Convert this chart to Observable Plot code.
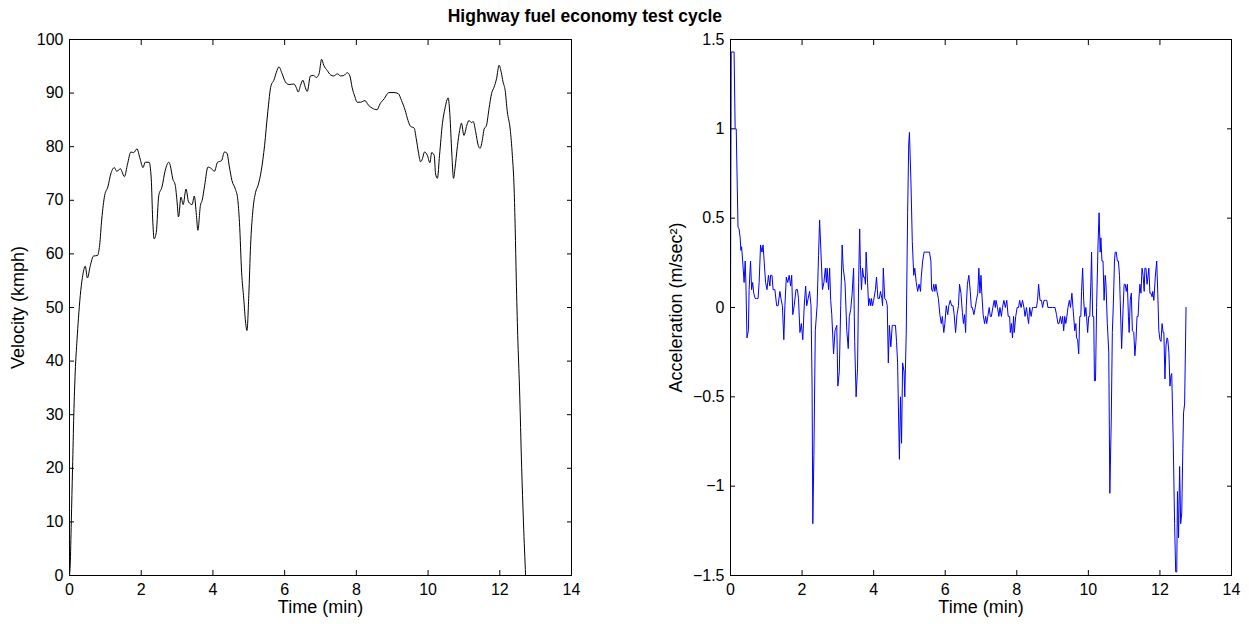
<!DOCTYPE html>
<html><head><meta charset="utf-8">
<script src="https://cdn.jsdelivr.net/npm/d3@7"></script>
<script src="https://cdn.jsdelivr.net/npm/@observablehq/plot@0.6"></script>
<style>
html,body{margin:0;padding:0;background:#fff;}
#fig{position:relative;width:1249px;height:624px;overflow:hidden;font-family:'Liberation Sans',Arial,Helvetica,sans-serif;}
#title{position:absolute;top:6px;left:0px;width:722px;text-align:right;font-weight:bold;font-size:17.5px;color:#000;white-space:nowrap;}
.panel{position:absolute;top:0;}
</style></head><body>
<div id="fig">
<div id="title">Highway fuel economy test cycle</div>
<div id="left" class="panel" style="left:0px"></div>
<div id="right" class="panel" style="left:640px"></div>
</div>
<script>
const titleText = "Highway fuel economy test cycle";
const xLabel = "Time (min)";
const velLabel = "Velocity (kmph)";
const accLabel = "Acceleration (m/sec\u00B2)";
const timeTicks = [0, 2, 4, 6, 8, 10, 12, 14];
const velTicks = [0, 10, 20, 30, 40, 50, 60, 70, 80, 90, 100];
const accTicks = [-1.5, -1, -0.5, 0, 0.5, 1, 1.5];

const velTime = [0,0.02,0.05,0.085,0.12,0.16,0.21,0.25,0.30,0.36,0.44,0.50,0.58,0.67,0.78,0.84,0.90,0.98,1.07,1.15,1.25,1.32,1.42,1.46,1.53,1.62,1.71,1.79,1.88,1.97,2.05,2.11,2.22,2.28,2.32,2.36,2.42,2.49,2.58,2.67,2.77,2.81,2.88,2.95,3.00,3.04,3.11,3.17,3.25,3.32,3.42,3.48,3.54,3.58,3.65,3.70,3.77,3.86,3.96,4.04,4.13,4.24,4.32,4.39,4.46,4.53,4.63,4.69,4.74,4.80,4.86,4.91,4.95,5.00,5.05,5.11,5.19,5.26,5.35,5.44,5.53,5.62,5.70,5.77,5.84,5.93,6.02,6.12,6.26,6.32,6.38,6.44,6.51,6.56,6.63,6.72,6.81,6.88,6.96,7.03,7.09,7.19,7.28,7.37,7.47,7.56,7.65,7.75,7.82,7.88,7.96,8.02,8.12,8.24,8.33,8.44,8.58,8.66,8.77,8.91,9.05,9.17,9.26,9.36,9.44,9.51,9.61,9.67,9.73,9.79,9.84,9.90,9.98,10.05,10.10,10.17,10.21,10.26,10.32,10.40,10.47,10.56,10.61,10.66,10.71,10.75,10.82,10.88,10.93,11.00,11.08,11.14,11.21,11.26,11.33,11.40,11.45,11.52,11.56,11.63,11.70,11.77,11.84,11.91,11.98,12.04,12.09,12.15,12.21,12.29,12.35,12.40,12.43,12.46,12.50,12.55,12.61,12.66,12.72];
const velocity = [0,2,10,20,30,38,44,48,52.2,55.6,57.7,55.5,57.8,59.6,59.7,61.6,66.5,70.9,72.5,74.9,76.1,75.4,75.9,75.4,74.4,76.8,79.0,78.9,79.6,77.7,76.1,77.1,77.1,74.0,66.5,62.8,64.0,70.9,72.5,75.6,77.1,76.5,74.0,72.8,69.7,66.9,70.6,69.2,72.1,69.7,69.2,70.8,67.2,64.4,69.0,70.0,72.8,76.2,75.9,75.4,77.1,77.4,79.0,78.8,76.2,73.7,72.0,70.3,65.9,56.6,51.6,47.3,45.7,52.2,61.6,67.8,71.5,72.8,75.6,80.2,86.5,91.4,92.4,93.9,94.9,93.6,92.1,91.6,91.7,91.1,90.2,91.4,92.4,91.4,90.3,93.2,93.3,92.9,93.6,96.3,95.2,94.2,93.4,93.2,93.6,93.2,93.3,93.8,93.2,91.1,89.3,88.3,88.3,88.6,87.8,87.2,86.9,88.0,88.9,90.1,90.1,89.9,88.6,86.8,84.9,83.8,83.5,81.5,79.0,77.2,77.7,79.0,78.4,77.0,78.9,78.4,74.9,74.1,78.4,84.3,87.1,89.1,85.8,79.0,74.1,75.9,80.2,83.0,84.4,82.1,84.0,84.9,84.5,84.7,82.7,80.2,79.7,81.5,83.2,84.0,87.1,89.9,91.1,92.7,95.2,93.9,92.1,90.5,86.5,83.3,78.4,72.1,64.7,55.3,44.8,35,20.2,10,0];

const accTime = [0,0.02,0.10,0.13,0.16,0.21,0.24,0.27,0.29,0.31,0.34,0.38,0.41,0.43,0.46,0.50,0.52,0.56,0.59,0.62,0.65,0.69,0.73,0.77,0.80,0.84,0.88,0.91,0.94,0.98,1.02,1.06,1.10,1.12,1.16,1.19,1.24,1.29,1.33,1.38,1.41,1.45,1.49,1.52,1.56,1.60,1.64,1.68,1.71,1.74,1.78,1.83,1.87,1.90,1.94,1.98,2.02,2.06,2.10,2.13,2.17,2.21,2.25,2.28,2.30,2.33,2.37,2.42,2.46,2.49,2.53,2.57,2.61,2.65,2.68,2.70,2.74,2.77,2.80,2.83,2.88,2.92,2.97,3.00,3.04,3.08,3.12,
3.15,3.20,3.25,3.29,3.32,3.36,3.40,3.44,3.47,3.51,3.55,3.58,3.61,3.63,3.66,3.69,3.72,3.75,3.77,3.79,3.83,3.86,3.89,3.92,3.94,3.97,4.00,4.05,4.08,4.12,4.16,4.19,4.23,4.25,4.27,4.31,4.35,4.38,4.41,4.44,4.48,4.52,4.56,4.61,4.64,4.67,4.69,4.72,4.75,4.78,4.81,4.85,4.87,4.91,4.95,4.98,5.00,5.04,5.08,5.12,5.15,5.19,5.23,5.27,5.31,5.33,5.37,5.41,5.46,5.52,5.56,5.60,5.62,5.65,5.68,5.71,5.74,5.77,5.81,5.85,5.89,5.92,5.96,5.99,6.03,6.07,6.10,6.14,6.18,6.22,6.25,6.29,6.33,6.37,6.40,
6.44,6.48,6.51,6.54,6.57,6.59,6.62,6.66,6.70,6.73,6.76,6.80,6.84,6.87,6.91,6.94,6.97,7.00,7.02,7.06,7.10,7.13,7.16,7.19,7.23,7.26,7.29,7.33,7.37,7.40,7.42,7.46,7.50,7.53,7.57,7.60,7.64,7.68,7.72,7.76,7.80,7.82,7.85,7.88,7.91,7.93,7.97,8.01,8.05,8.08,8.12,8.16,8.20,8.23,8.27,8.30,8.33,8.36,8.40,8.44,8.47,8.51,8.55,8.58,8.61,8.65,8.69,8.72,8.76,8.80,8.84,8.87,8.93,9.00,9.07,9.11,9.15,9.18,9.22,9.25,9.28,9.31,9.34,9.37,9.40,9.43,9.47,9.50,9.54,9.57,
9.62,9.65,9.67,9.70,9.73,9.76,9.79,9.81,9.84,9.87,9.90,9.93,9.95,9.98,10.01,10.04,10.07,10.09,10.12,10.15,10.17,10.20,10.23,10.27,10.30,10.33,10.35,10.38,10.41,10.44,10.47,10.49,10.53,10.57,10.60,10.64,10.67,10.70,10.73,10.75,10.78,10.81,10.84,10.87,10.89,10.93,10.97,11.00,11.03,11.06,11.09,11.12,11.14,11.17,11.20,11.23,11.27,11.30,11.33,11.36,11.39,11.41,11.44,11.47,11.50,11.53,11.56,11.58,11.61,11.64,11.67,11.69,11.72,11.75,11.78,11.80,11.83,11.87,11.91,11.94,11.97,12.00,12.03,12.06,12.09,12.11,12.14,12.17,12.20,12.22,12.25,12.28,12.31,12.33,12.37,12.41,12.44,12.47,12.49,12.52,12.55,12.58,12.61,12.64,12.66,12.69,12.73];
const acceleration = [0,1.43,1.43,1.0,1.0,0.45,0.44,0.39,0.32,0.34,0.26,0.14,0.26,0.14,-0.17,-0.13,0.10,0.26,0.10,0.14,0.08,0.05,0.05,0.05,0.14,0.35,0.31,0.35,0.26,0.14,0.10,0.18,0.12,0.18,0.18,0.10,0.10,0.01,0.01,0.09,0.05,0.01,-0.18,0.01,0.17,0.14,0.18,0.12,0.18,-0.04,0.01,0.10,0.10,0.05,-0.14,-0.09,-0.18,0.01,0.12,0.01,0.05,0.09,0.01,-0.44,-1.21,-0.83,-0.13,0.01,0.29,0.49,0.30,0.10,0.14,0.22,0.14,0.22,0.10,0.22,0.04,-0.04,-0.26,-0.13,-0.10,-0.44,-0.36,0.01,0.35,
0.22,0.14,-0.13,-0.23,-0.05,-0.01,0.08,0.22,-0.19,-0.50,-0.34,0.14,0.44,0.24,0.10,0.22,0.17,0.17,0.13,0.31,0.14,0.01,0.05,0.01,0.05,0.01,0.04,0.10,0.17,0.05,0.05,0.09,0.05,0.01,0.22,0.05,0.04,0.01,-0.31,-0.10,-0.22,-0.10,-0.10,-0.10,-0.19,-0.31,-0.54,-0.85,-0.50,-0.76,-0.31,-0.36,-0.50,-0.15,0.53,0.91,0.98,0.72,0.37,0.18,0.22,0.14,0.09,0.13,0.09,0.17,0.26,0.31,0.31,0.31,0.31,0.26,0.10,0.09,0.13,0.09,0.13,0.09,0.05,-0.04,-0.09,-0.05,-0.14,-0.09,0.01,-0.04,0.01,0.04,0.01,0.01,-0.04,-0.14,-0.04,0.01,0.13,
0.08,-0.03,-0.09,-0.04,-0.14,0.01,0.13,0.18,0.09,0.00,0.00,-0.04,0.00,0.04,0.08,0.22,0.08,0.18,0.09,-0.04,-0.09,-0.05,-0.09,-0.05,0.00,-0.05,-0.05,0.00,0.04,0.00,0.04,0.00,-0.05,0.00,-0.05,0.00,0.04,0.00,0.04,-0.05,-0.05,-0.14,-0.09,-0.17,-0.05,-0.14,-0.05,0.00,0.00,0.04,0.00,0.04,0.00,-0.05,0.00,-0.05,-0.09,0.00,-0.05,0.00,0.00,0.00,0.00,0.04,0.13,0.04,0.04,0.00,0.04,0.04,0.04,0.00,0.00,0.00,0.00,-0.04,-0.09,-0.09,-0.05,-0.09,-0.05,-0.13,-0.05,-0.09,-0.05,0.00,0.04,0.00,0.08,0.00,
-0.13,-0.09,-0.17,-0.18,-0.26,-0.05,-0.05,0.09,0.22,0.04,-0.05,0.00,-0.05,-0.14,-0.05,-0.05,0.14,0.31,-0.05,-0.05,-0.41,-0.41,0.00,0.35,0.53,0.31,0.39,0.26,0.26,0.04,0.18,0.14,-0.09,-0.25,-1.04,-0.63,-0.14,0.03,0.26,0.31,0.31,0.26,0.26,0.18,0.04,-0.23,-0.01,0.13,0.13,0.09,0.13,-0.05,-0.14,0.04,0.08,-0.13,-0.14,-0.27,-0.19,-0.05,-0.05,0.04,0.13,0.08,0.22,0.18,0.09,0.22,0.22,0.13,0.18,0.22,0.08,0.08,0.06,0.09,0.04,0.17,0.26,0.08,-0.13,-0.18,-0.19,-0.09,-0.14,-0.14,-0.40,-0.21,-0.17,-0.18,-0.25,-0.44,-0.38,-0.37,-0.73,-1.21,-1.48,-1.48,-1.03,-1.29,-0.89,-1.21,-1.15,-0.79,-0.59,-0.54,0.00];

document.getElementById("title").textContent = titleText;

const FONT = "'Liberation Sans', Arial, Helvetica, sans-serif";
const numFmt = d => (d < 0 ? "\u2212" : "") + String(Math.abs(d));

function panel({width, ml, mr, yDomain, yTicks, rows, color, curve, ylabel, ylabelDx}) {
  return Plot.plot({
    width, height: 624,
    marginLeft: ml, marginRight: mr, marginTop: 39, marginBottom: 49,
    style: {fontFamily: FONT, fontSize: "16px", color: "black", background: "transparent", overflow: "visible"},
    x: {domain: [0, 14]},
    y: {domain: yDomain},
    marks: [
      Plot.line(rows, {x: "t", y: "v", stroke: color, strokeWidth: 1, curve}),
      Plot.frame({stroke: "black", strokeWidth: 1}),
      Plot.axisX(timeTicks, {anchor: "bottom", tickSize: 0, tickPadding: 8, tickFormat: numFmt, label: null}),
      Plot.axisX(timeTicks, {anchor: "bottom", tickSize: -5, tickFormat: () => "", label: null}),
      Plot.axisX(timeTicks, {anchor: "top", tickSize: -5, tickFormat: () => "", label: null}),
      Plot.axisY(yTicks, {anchor: "left", tickSize: 0, tickPadding: 6, tickFormat: numFmt, label: null}),
      Plot.axisY(yTicks, {anchor: "left", tickSize: -5, tickFormat: () => "", label: null}),
      Plot.axisY(yTicks, {anchor: "right", tickSize: -5, tickFormat: () => "", label: null}),
      Plot.text([xLabel], {text: d => d, frameAnchor: "bottom", lineAnchor: "middle", textAnchor: "middle", dy: 32, fontSize: 18, fill: "black"}),
      Plot.text([ylabel], {text: d => d, frameAnchor: "left", lineAnchor: "middle", textAnchor: "middle", dx: ylabelDx, rotate: -90, fontSize: 18, fill: "black"})
    ]
  });
}

const velRows = velTime.map((t, i) => ({t, v: velocity[i]}));
const accRows = accTime.map((t, i) => ({t, v: acceleration[i]}));

document.getElementById("left").append(panel({
  width: 600, ml: 69, mr: 29, yDomain: [0, 100], yTicks: velTicks,
  rows: velRows, color: "black", curve: "monotone-x", ylabel: velLabel, ylabelDx: -51
}));
document.getElementById("right").append(panel({
  width: 609, ml: 90, mr: 18, yDomain: [-1.5, 1.5], yTicks: accTicks,
  rows: accRows, color: "#0000ff", curve: "linear", ylabel: accLabel, ylabelDx: -54
}));
</script>
</body></html>
